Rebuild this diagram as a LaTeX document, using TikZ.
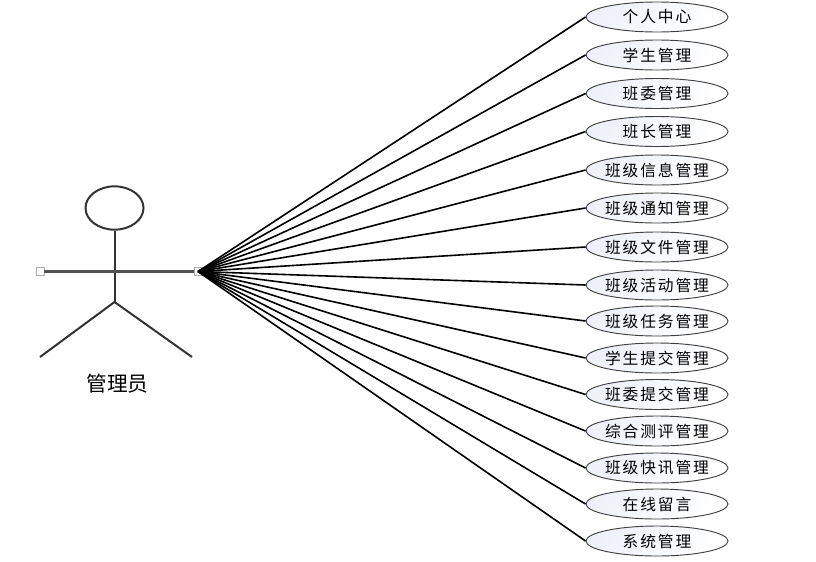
\documentclass[tikz,border=0pt]{standalone}
\usepackage{fontspec}
\setmainfont{Noto Sans CJK SC}
\usetikzlibrary{shapes.geometric}
\definecolor{cline}{HTML}{333333}
\definecolor{cgrip}{HTML}{AAAAAA}
\definecolor{tcase}{HTML}{EEF1FA}

\begin{document}
\begin{tikzpicture}[
  x=0.75pt, y=-0.75pt,
  usecase/.style={ellipse, draw=black!75, line width=0.7pt, inner xsep=-12pt, inner ysep=-3pt,
                  minimum width=106.5pt, minimum height=22.5pt,
                  left color=tcase, right color=white, shading angle=45,
                  font=\fontsize{11.8}{13}\selectfont\addfontfeature{LetterSpace=12}},
  grip/.style={rectangle, draw=cgrip, fill=white, line width=0.6pt, inner sep=0pt,
               minimum size=6pt},
  limb/.style={cline, line width=1.5pt},
  link/.style={black, line width=1.2pt}
]
\useasboundingbox (0,0) rectangle (816,561);

% --- the actor ---
\node[ellipse, draw=cline, line width=1.5pt, inner sep=0pt,
      minimum width=43.5pt, minimum height=32.5pt] (head) at (114.5,208) {};
\coordinate (hip) at (114.5,302);
\coordinate (footl) at (40,357);
\coordinate (footr) at (192,357);
\node[grip] (handl) at (40,271.5) {};
\node[grip] (handr) at (198,271.5) {};
\draw[limb] (head.south) -- (hip);
\draw[limb, line width=1.7pt, cline!85] (handl.east) -- (handr.west);
\draw[limb] (footl) -- (hip) -- (footr);
\node[font=\fontsize{15.5}{17}\selectfont] (actor) at (117.5,383.5) {管理员};

% --- the use cases ---
\foreach \i/\ypos/\name in {
  1/17/个人中心, 2/55/学生管理, 3/93.5/班委管理, 4/131.5/班长管理,
  5/170/班级信息管理, 6/208/班级通知管理, 7/247/班级文件管理,
  8/285/班级活动管理, 9/321/班级任务管理, 10/358/学生提交管理,
  11/394.5/班委提交管理, 12/431/综合测评管理, 13/468/班级快讯管理,
  14/504/在线留言, 15/541/系统管理}{
  \node[usecase] (case\i) at (657,\ypos) {\raisebox{-0.6pt}{\name}};
  \draw[link] (handr.center) -- (case\i.west);
}

\end{tikzpicture}
\end{document}
